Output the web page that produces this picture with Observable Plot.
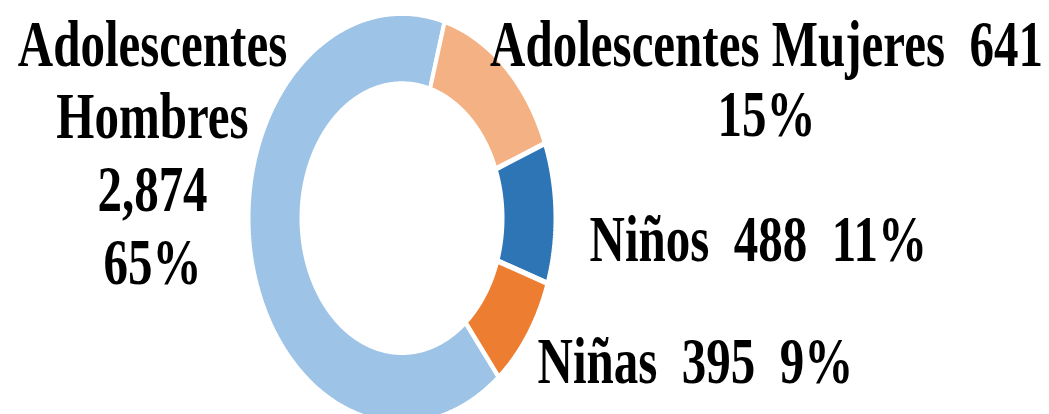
<!DOCTYPE html>
<html><head><meta charset="utf-8">
<script src="https://cdn.jsdelivr.net/npm/d3@7"></script>
<script src="https://cdn.jsdelivr.net/npm/@observablehq/plot@0.6"></script>
<style>html,body{margin:0;padding:0;background:#fff;} #chart svg{display:block;}</style>
</head><body><div id="chart"></div>
<script>
// ---- data ----
const categories = ["Adolescentes Hombres", "Adolescentes Mujeres", "Niños", "Niñas"];
const values = [2874, 641, 488, 395];
const colors = ["#9DC3E6", "#F4B183", "#2E75B6", "#ED7D31"];

// ---- layout (unstretched coordinates; SVG is stretched vertically afterwards) ----
const W = 1049, H = 414, SY = 1.335, H0 = H / SY;
const cx = 401.5, cy = 162.9, rOut = 153.5, rIn = 100.5;
const startDeg = 140.9;
const FS = 49;
const labelLayout = {
  "Adolescentes Hombres": {x: 152, y: 48.7, step: 54.5, anchor: "middle"},
  "Adolescentes Mujeres": {x: 766, y: 48.7, step: 52.4, anchor: "middle"},
  "Niños": {x: 589, y: 194.8, step: 0, anchor: "start"},
  "Niñas": {x: 537, y: 286.1, step: 0, anchor: "start"}
};

const total = d3.sum(values);
const fmtN = d3.format(",");
const fmtP = d3.format(".0%");
const rad = d => d * Math.PI / 180;
const pie = d3.pie().sort(null).startAngle(rad(startDeg)).endAngle(rad(startDeg) + 2 * Math.PI);
const arcs = pie(values);

// slice outlines
const pts = [];
arcs.forEach((a, i) => {
  const cat = categories[i];
  const n = Math.max(2, Math.ceil((a.endAngle - a.startAngle) / rad(0.5)));
  const ring = [];
  for (let k = 0; k <= n; k++) {
    const t = a.startAngle + (a.endAngle - a.startAngle) * k / n;
    ring.push({cat, x: cx + rOut * Math.sin(t), y: cy - rOut * Math.cos(t)});
  }
  for (let k = n; k >= 0; k--) {
    const t = a.startAngle + (a.endAngle - a.startAngle) * k / n;
    ring.push({cat, x: cx + rIn * Math.sin(t), y: cy - rIn * Math.cos(t)});
  }
  ring.push({...ring[0]});
  pts.push(...ring);
});

// labels
const sp = "\u00a0 ";
const labelLines = categories.map((c, i) => {
  const n = fmtN(values[i]), p = fmtP(values[i] / total);
  if (i === 0) return ["Adolescentes", "Hombres", n, p];
  if (i === 1) return ["Adolescentes Mujeres" + sp + n, p];
  return [c + sp + n + sp + p];
});
const labels = [];
categories.forEach((c, i) => {
  const L = labelLayout[c];
  labelLines[i].forEach((t, j) => labels.push({
    text: t, x: L.x, y: L.y + j * L.step - 0.71 * FS, anchor: L.anchor
  }));
});

const commonText = {
  x: "x", y: "y", text: "text", lineAnchor: "top",
  fontFamily: "Liberation Serif, Times New Roman, serif", fontWeight: "bold",
  fontSize: FS, fill: "#000"
};

const chart = Plot.plot({
  width: W, height: H0,
  margin: 0,
  x: {domain: [0, W], range: [0, W], axis: null},
  y: {domain: [0, H0], range: [0, H0], axis: null},
  color: {domain: categories, range: colors},
  marks: [
    Plot.line(pts, {x: "x", y: "y", z: "cat", fill: "cat", stroke: "white",
      strokeWidth: 4, strokeLinejoin: "miter", curve: "linear"}),
    Plot.text(labels.filter(d => d.anchor === "middle"), {...commonText, textAnchor: "middle"}),
    Plot.text(labels.filter(d => d.anchor === "start"), {...commonText, textAnchor: "start"})
  ]
});
chart.setAttribute("preserveAspectRatio", "none");
chart.setAttribute("height", H);
chart.style.height = H + "px";
chart.style.width = W + "px";
chart.style.maxWidth = "none";
document.getElementById("chart").appendChild(chart);
</script>
</body></html>
